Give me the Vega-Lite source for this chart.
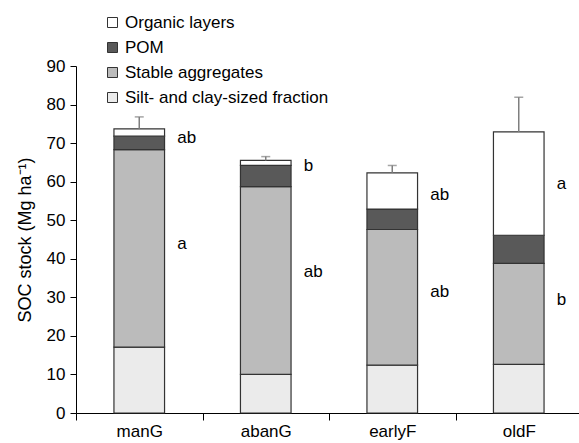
{
  "$schema": "https://vega.github.io/schema/vega-lite/v6.json",
  "width": 506,
  "height": 347,
  "autosize": {"type": "none"},
  "padding": {"left": 76, "top": 66, "right": 0, "bottom": 30},
  "background": "white",
  "config": {
    "view": {"stroke": null},
    "font": "Liberation Sans",
    "axisY": {
      "grid": false,
      "tickCount": 10,
      "labelOverlap": false,
      "tickSize": 6,
      "tickColor": "black",
      "domainColor": "black",
      "labelFontSize": 17,
      "labelColor": "black",
      "labelFont": "Liberation Sans",
      "labelPadding": 5,
      "titleFont": "Liberation Sans",
      "titleFontSize": 18,
      "titleFontWeight": "normal",
      "titleColor": "black",
      "titlePadding": 12
    }
  },
  "datasets": {
    "fractions": [
      {"site": "manG", "fraction": "Silt- and clay-sized fraction", "k": 1, "value": 17.1},
      {"site": "manG", "fraction": "Stable aggregates", "k": 2, "value": 51.2},
      {"site": "manG", "fraction": "POM", "k": 3, "value": 3.5},
      {"site": "manG", "fraction": "Organic layers", "k": 4, "value": 1.9},
      {"site": "abanG", "fraction": "Silt- and clay-sized fraction", "k": 1, "value": 10.0},
      {"site": "abanG", "fraction": "Stable aggregates", "k": 2, "value": 48.7},
      {"site": "abanG", "fraction": "POM", "k": 3, "value": 5.5},
      {"site": "abanG", "fraction": "Organic layers", "k": 4, "value": 1.3},
      {"site": "earlyF", "fraction": "Silt- and clay-sized fraction", "k": 1, "value": 12.4},
      {"site": "earlyF", "fraction": "Stable aggregates", "k": 2, "value": 35.2},
      {"site": "earlyF", "fraction": "POM", "k": 3, "value": 5.3},
      {"site": "earlyF", "fraction": "Organic layers", "k": 4, "value": 9.4},
      {"site": "oldF", "fraction": "Silt- and clay-sized fraction", "k": 1, "value": 12.6},
      {"site": "oldF", "fraction": "Stable aggregates", "k": 2, "value": 26.2},
      {"site": "oldF", "fraction": "POM", "k": 3, "value": 7.3},
      {"site": "oldF", "fraction": "Organic layers", "k": 4, "value": 26.8}
    ],
    "errors": [
      {"site": "manG", "total": 73.7, "upper": 76.8},
      {"site": "abanG", "total": 65.5, "upper": 66.5},
      {"site": "earlyF", "total": 62.3, "upper": 64.2},
      {"site": "oldF", "total": 72.9, "upper": 81.9}
    ],
    "letters": [
      {"site": "manG", "pos": 71.2, "label": "ab"},
      {"site": "manG", "pos": 43.9, "label": "a"},
      {"site": "abanG", "pos": 64.0, "label": "b"},
      {"site": "abanG", "pos": 36.6, "label": "ab"},
      {"site": "earlyF", "pos": 56.5, "label": "ab"},
      {"site": "earlyF", "pos": 31.4, "label": "ab"},
      {"site": "oldF", "pos": 59.5, "label": "a"},
      {"site": "oldF", "pos": 29.2, "label": "b"}
    ]
  },
  "encoding": {
    "x": {
      "field": "site",
      "type": "nominal",
      "sort": ["manG", "abanG", "earlyF", "oldF"],
      "scale": {"paddingInner": 0, "paddingOuter": 0},
      "axis": {
        "title": null,
        "tickBand": "extent",
        "labelAngle": 0,
        "labelFontSize": 17,
        "labelColor": "black",
        "labelFont": "Liberation Sans",
        "domainColor": "black",
        "tickColor": "black",
        "tickSize": 7,
        "labelPadding": 3
      }
    }
  },
  "layer": [
    {
      "data": {"name": "fractions"},
      "mark": {"type": "bar", "width": {"band": 0.4}, "stroke": "#333333", "strokeWidth": 1.2},
      "encoding": {
        "y": {
          "field": "value",
          "type": "quantitative",
          "stack": "zero",
          "scale": {"domain": [0, 90], "nice": false},
          "axis": {"title": "SOC stock (Mg ha⁻¹)", "values": [0, 10, 20, 30, 40, 50, 60, 70, 80, 90]}
        },
        "color": {
          "field": "fraction",
          "type": "nominal",
          "scale": {
            "domain": ["Organic layers", "POM", "Stable aggregates", "Silt- and clay-sized fraction"],
            "range": ["#ffffff", "#595959", "#bbbbbb", "#ebebeb"]
          },
          "legend": {
            "title": null,
            "orient": "none",
            "legendX": 28,
            "legendY": -52,
            "padding": 0,
            "symbolType": "square",
            "symbolSize": 100,
            "symbolStrokeColor": "#333333",
            "symbolStrokeWidth": 1,
            "labelFontSize": 17,
            "labelColor": "black",
            "labelFont": "Liberation Sans",
            "labelOffset": 4,
            "labelLimit": 400,
            "rowPadding": 7
          }
        },
        "order": {"field": "k", "type": "quantitative", "sort": "ascending"}
      }
    },
    {
      "data": {"name": "errors"},
      "mark": {"type": "rule", "color": "#7f7f7f", "strokeWidth": 1.5},
      "encoding": {
        "y": {"field": "total", "type": "quantitative", "axis": {"title": "SOC stock (Mg ha⁻¹)", "values": [0, 10, 20, 30, 40, 50, 60, 70, 80, 90]}},
        "y2": {"field": "upper"}
      }
    },
    {
      "data": {"name": "errors"},
      "mark": {"type": "tick", "color": "#7f7f7f", "size": 9, "thickness": 1.5},
      "encoding": {
        "y": {"field": "upper", "type": "quantitative", "axis": {"title": "SOC stock (Mg ha⁻¹)", "values": [0, 10, 20, 30, 40, 50, 60, 70, 80, 90]}}
      }
    },
    {
      "data": {"name": "letters"},
      "mark": {"type": "text", "align": "left", "baseline": "middle", "dx": 38, "fontSize": 17, "font": "Liberation Sans", "color": "black"},
      "encoding": {
        "y": {"field": "pos", "type": "quantitative", "axis": {"title": "SOC stock (Mg ha⁻¹)", "values": [0, 10, 20, 30, 40, 50, 60, 70, 80, 90]}},
        "text": {"field": "label"}
      }
    }
  ]
}
